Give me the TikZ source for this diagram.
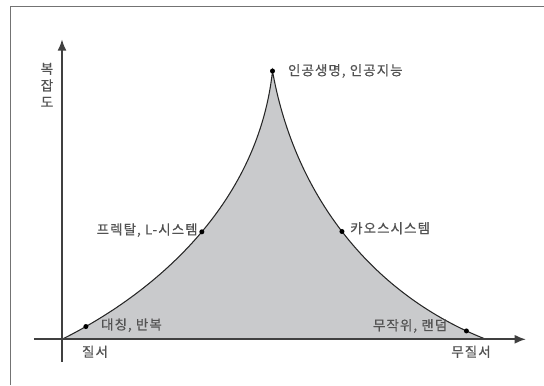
\documentclass[tikz,border=0pt]{standalone}
\usepackage{fontspec}
\setmainfont{Noto Sans CJK KR}[UprightFeatures={FakeBold=0.6}, LetterSpace=8]
\usetikzlibrary{arrows.meta,positioning}
\definecolor{hillgray}{RGB}{201,202,204}
\tikzset{
  lbl/.style={inner sep=0pt, text=black!68, font=\fontsize{11.5}{13}\selectfont},
  axisline/.style={line width=1.6pt, black!75, -{Latex[length=3.4mm,width=2.7mm]}},
}
\begin{document}
\begin{tikzpicture}
  \useasboundingbox (-1.86,-1.371) rectangle (14.46,10.179);
  \draw[black!55, line width=0.8pt] (-1.56,-1.371) |- (14.46,9.999);
  \coordinate (O) at (0,0);
  \coordinate (top) at (6.315,8.049);
  \coordinate (end) at (12.72,0);
  \coordinate (ybot) at (0,-0.672);
  \coordinate (ytip) at (0,9.0);
  \coordinate (xbeg) at (-0.84,0);
  \coordinate (xtip) at (13.92,0);
  \fill[hillgray] (O) .. controls (3,1.5) and (5.9,4.2) .. (top)
    .. controls (7.0,4.2) and (9.4,1.3) .. (end) -- cycle;
  \draw[black!85, line width=0.9pt] (O) .. controls (3,1.5) and (5.9,4.2) .. (top)
    coordinate[pos=0.08] (sym) coordinate[pos=0.51] (frac)
    .. controls (7.0,4.2) and (9.4,1.3) .. (end)
    coordinate[pos=0.48] (chaos) coordinate[pos=0.94] (rand);
  \draw[axisline] (ybot) -- (ytip);
  \draw[axisline] (xbeg) -- (xtip);
  \foreach \p in {top,frac,sym,chaos,rand}
    \fill (\p) circle (0.075);
  \node[lbl, right=4.6mm of top] (toplbl) {인공생명, 인공지능};
  \node[lbl, left=1.2mm of frac, yshift=0.5mm] (fraclbl) {프렉탈, L-시스템};
  \node[lbl, right=2.4mm of chaos, yshift=1mm] (chaoslbl) {카오스시스템};
  \node[lbl, right=4.5mm of sym, yshift=0.4mm] (symlbl) {대칭, 반복};
  \node[lbl, left=5.7mm of rand, yshift=1.5mm] (randlbl) {무작위, 랜덤};
  \node[lbl] (order) at (0.99,-0.372) {질서};
  \node[lbl] (disorder) at (12.27,-0.372) {무질서};
  \node[lbl, align=center, font=\fontsize{11.5}{14.2}\selectfont] (cplx) at (-0.45,7.63) {복\\잡\\도};
\end{tikzpicture}
\end{document}
